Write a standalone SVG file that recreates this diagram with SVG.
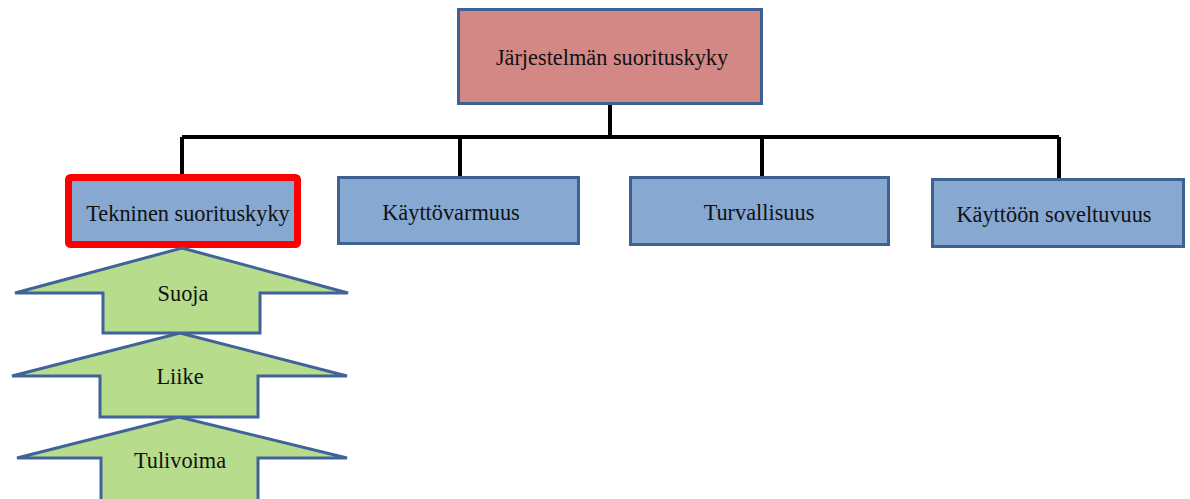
<svg xmlns="http://www.w3.org/2000/svg" width="1190" height="499" viewBox="0 0 1190 499">
<style>
.box{fill:#87a8d0;stroke:#3e6193;stroke-width:3}
.top{fill:#d38886;stroke:#3e6193;stroke-width:3}
.arrow{fill:#b7dc8b;stroke:#41639a;stroke-width:3;stroke-linejoin:miter}
.conn{fill:none;stroke:#000;stroke-width:4}
text{font-family:"Liberation Serif","Times New Roman",serif;font-size:22.3px;fill:#111;text-anchor:middle;dominant-baseline:central}
</style>
<rect width="1190" height="499" fill="#fff"/>
<g id="connectors">
<path class="conn" d="M610 104V137M182 137H1059M182 137V176M460 137V177M762 137V177M1059 137V179"/>
</g>
<g id="n-top">
<rect class="top" x="458.5" y="9.5" width="303" height="94"/>
<text x="612" y="57">Järjestelmän suorituskyky</text>
</g>
<g id="n-tekninen">
<rect x="68.5" y="177.5" width="229" height="67" rx="2" fill="#87a8d0" stroke="#ff0000" stroke-width="7"/>
<text x="188" y="213">Tekninen suorituskyky</text>
</g>
<g id="n-kayttovarmuus">
<rect class="box" x="338.5" y="177.5" width="240" height="66"/>
<text x="451" y="212">Käyttövarmuus</text>
</g>
<g id="n-turvallisuus">
<rect class="box" x="630.5" y="177.5" width="258" height="67"/>
<text x="759" y="212">Turvallisuus</text>
</g>
<g id="n-soveltuvuus">
<rect class="box" x="932.5" y="179.5" width="251" height="67"/>
<text x="1054" y="214">Käyttöön soveltuvuus</text>
</g>
<g id="n-tulivoima">
<polygon class="arrow" points="179,417 347,458 258,458 258,502 101,502 101,458 17,458"/>
<text x="180" y="460">Tulivoima</text>
</g>
<g id="n-liike">
<polygon class="arrow" points="180,333 347,376 258,376 258,417 100,417 100,376 12,376"/>
<text x="180" y="376">Liike</text>
</g>
<g id="n-suoja">
<polygon class="arrow" points="182,248 348,293 260,293 260,333 103,333 103,293 15,293"/>
<text x="183" y="293">Suoja</text>
</g>
</svg>
